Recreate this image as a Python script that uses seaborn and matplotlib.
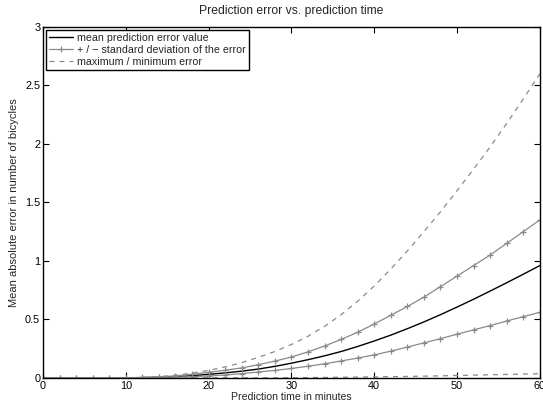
import numpy as np
import pandas as pd
import matplotlib
matplotlib.use("Agg")
import matplotlib.pyplot as plt
import seaborn as sns

# prediction time in minutes (sampled every 2 min)
minutes = list(range(0, 62, 2))

mean_err = [0, 0, 0, 0, 0, 0, 0.002, 0.005, 0.01, 0.018, 0.03, 0.042, 0.057, 0.075,
            0.098, 0.125, 0.155, 0.188, 0.225, 0.268, 0.315, 0.365, 0.42, 0.478, 0.54,
            0.605, 0.672, 0.742, 0.813, 0.886, 0.96]
std_upper = [0, 0, 0, 0, 0, 0, 0.003, 0.008, 0.017, 0.03, 0.047, 0.065, 0.085, 0.112,
             0.143, 0.178, 0.222, 0.272, 0.328, 0.39, 0.46, 0.535, 0.61, 0.69, 0.78,
             0.87, 0.96, 1.05, 1.15, 1.25, 1.35]
std_lower = [0, 0, 0, 0, 0, 0, 0.001, 0.003, 0.006, 0.01, 0.016, 0.024, 0.036, 0.05,
             0.063, 0.08, 0.099, 0.12, 0.144, 0.169, 0.196, 0.228, 0.263, 0.299, 0.335,
             0.373, 0.41, 0.447, 0.486, 0.523, 0.56]
max_err = [0, 0, 0, 0, 0, 0, 0.003, 0.01, 0.022, 0.04, 0.064, 0.093, 0.13, 0.175,
           0.225, 0.285, 0.355, 0.44, 0.54, 0.655, 0.785, 0.93, 1.085, 1.25, 1.42,
           1.6, 1.785, 1.975, 2.175, 2.385, 2.6]
min_err = [0, 0, 0, 0, 0, 0, 0, 0, 0, 0, 0, 0, 0, 0, 0, 0, 0.002, 0.003, 0.005,
           0.006, 0.008, 0.01, 0.012, 0.014, 0.017, 0.02, 0.023, 0.026, 0.029,
           0.032, 0.035]

xticks = [0, 10, 20, 30, 40, 50, 60]
yticks = [0, 0.5, 1, 1.5, 2, 2.5, 3]
ytick_labels = ["0", "0.5", "1", "1.5", "2", "2.5", "3"]

df = pd.DataFrame({"t": minutes, "mean": mean_err, "up": std_upper,
                   "low": std_lower, "max": max_err, "min": min_err})

sns.set_theme(style="ticks")
plt.rcParams["font.family"] = ["Liberation Sans", "DejaVu Sans"]
plt.rcParams["xtick.direction"] = "in"
plt.rcParams["ytick.direction"] = "in"

fig = plt.figure(figsize=(5.43, 4.07), dpi=100)
ax = fig.add_axes([0.0792, 0.0717, 0.915, 0.862])

grey = "#8a8a8a"
sns.lineplot(data=df, x="t", y="mean", ax=ax, color="black", linewidth=1.0,
             label="mean prediction error value")
sns.lineplot(data=df, x="t", y="up", ax=ax, color=grey, linewidth=0.9,
             marker="+", markersize=5, markeredgewidth=0.9, markeredgecolor=grey,
             label="+ / \u2212 standard deviation of the error")
sns.lineplot(data=df, x="t", y="low", ax=ax, color=grey, linewidth=0.9,
             marker="+", markersize=5, markeredgewidth=0.9, markeredgecolor=grey,
             label="_nolegend_")
sns.lineplot(data=df, x="t", y="max", ax=ax, color=grey, linewidth=0.9,
             linestyle=(0, (4, 4)), label="maximum / minimum error")
sns.lineplot(data=df, x="t", y="min", ax=ax, color=grey, linewidth=0.9,
             linestyle=(0, (4, 4)), label="_nolegend_")

ax.set_xlim(0, 60)
ax.set_ylim(0, 3)
ax.set_xticks(xticks)
ax.set_yticks(yticks)
ax.set_yticklabels(ytick_labels)
ax.tick_params(axis="both", which="both", direction="in", length=4, width=0.8,
               labelsize=7.8, top=True, right=True, pad=2, colors="black")
for s in ax.spines.values():
    s.set_visible(True)
    s.set_color("black")
    s.set_linewidth(1.0)

ax.set_title("Prediction error vs. prediction time", fontsize=8.7, pad=9)
ax.set_xlabel("Prediction time in minutes", fontsize=7.6, labelpad=1)
ax.set_ylabel("Mean absolute error in number of bicycles", fontsize=8.0, labelpad=4)

leg = ax.legend(loc="upper left", fontsize=7.7, frameon=True, fancybox=False,
                framealpha=1, edgecolor="black", borderaxespad=0.25,
                handlelength=2.3, handletextpad=0.3, borderpad=0.3,
                labelspacing=0.2)
leg.get_frame().set_linewidth(1.0)

fig.savefig("out.png", dpi=100)
